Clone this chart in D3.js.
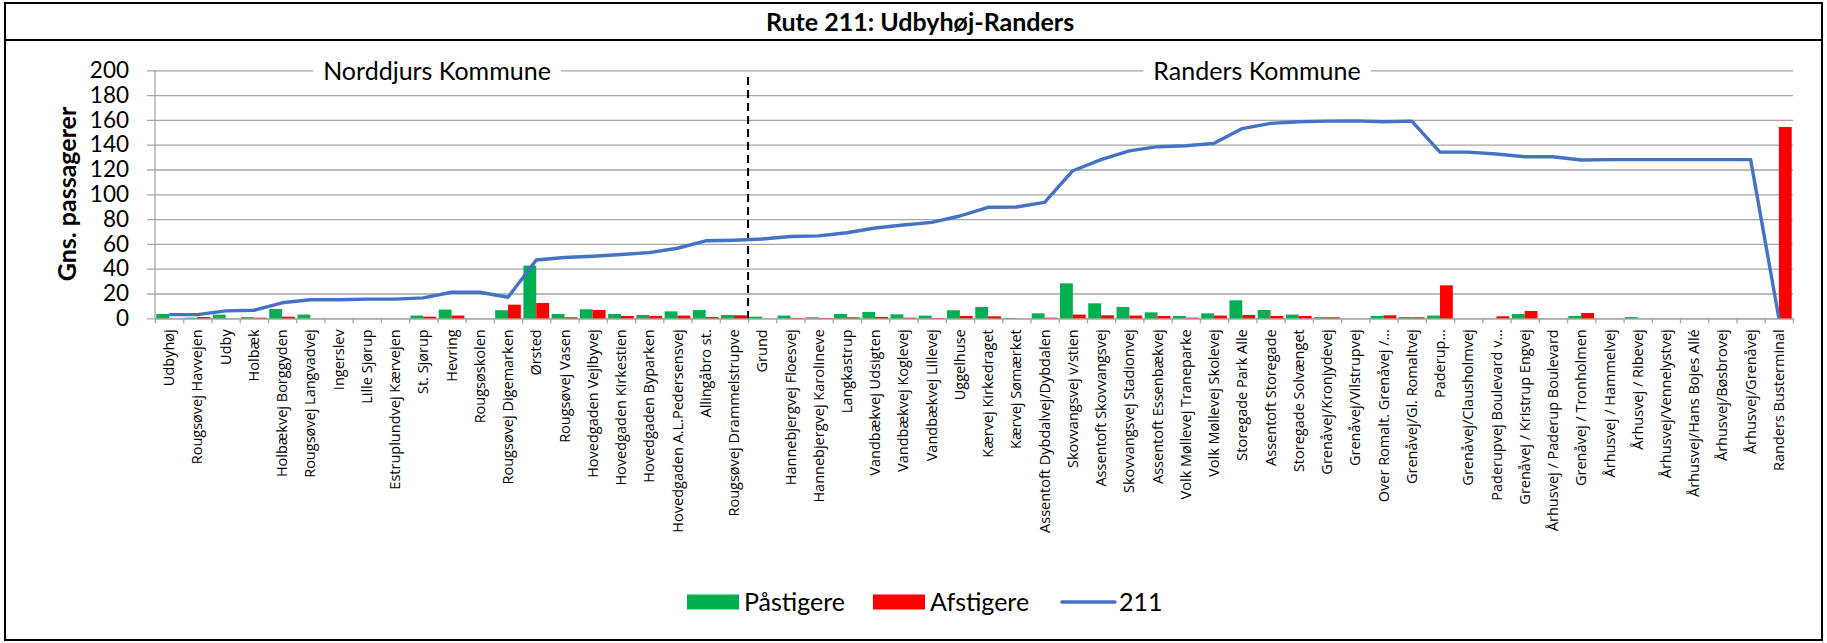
<!DOCTYPE html>
<html>
<head>
<meta charset="utf-8">
<script src="https://cdn.jsdelivr.net/npm/d3@7"></script>
<style>
  body { margin: 0; background: #fff; }
  svg { display: block; }
  .grid line { stroke: #a6a6a6; stroke-width: 1.3; }
  .grid text { font-family: Lato, sans-serif; font-size: 22.5px; fill: #000; }
  .xlab { font-family: "Open Sans", sans-serif; font-size: 14.5px; fill: #000; }
</style>
</head>
<body>
<div id="chart"></div>
<script>
// Data
const stops = [
  'Udbyhøj', 'Rougsøvej Havvejen', 'Udby', 'Holbæk', 'Holbækvej Borggyden',
  'Rougsøvej Langvadvej', 'Ingerslev', 'Lille Sjørup', 'Estruplundvej Kærvejen', 'St. Sjørup',
  'Hevring', 'Rougsøskolen', 'Rougsøvej Digemarken', 'Ørsted', 'Rougsøvej  Vasen',
  'Hovedgaden Vejlbyvej', 'Hovedgaden Kirkestien', 'Hovedgaden Byparken', 'Hovedgaden A.L.Pedersensvej', 'Allingåbro st.',
  'Rougsøvej Drammelstrupve', 'Grund', 'Hannebjergvej Floesvej', 'Hannebjergvej Karolineve', 'Langkastrup',
  'Vandbækvej Udsigten', 'Vandbækvej Koglevej', 'Vandbækvej Lillevej', 'Uggelhuse', 'Kærvej Kirkedraget',
  'Kærvej Sømærket', 'Assentoft Dybdalvej/Dybdalen', 'Skovvangsvej v/stien', 'Assentoft Skovvangsvej', 'Skovvangsvej Stadionvej',
  'Assentoft Essenbækvej', 'Volk Møllevej Traneparke', 'Volk Møllevej Skolevej', 'Storegade Park Alle', 'Assentoft Storegade',
  'Storegade Solvænget', 'Grenåvej/Kronjydevej', 'Grenåvej/Vilstrupvej', 'Over Romalt. Grenåvej /…', 'Grenåvej/Gl. Romaltvej',
  'Paderup…', 'Grenåvej/Clausholmvej', 'Paderupvej Boulevard v…', 'Grenåvej / Kristrup Engvej', 'Århusvej / Paderup Boulevard',
  'Grenåvej / Tronholmen', 'Århusvej / Hammelvej', 'Århusvej / Ribevej', 'Århusvej/Vennelystvej', 'Århusvej/Hans Bojes Allé',
  'Århusvej/Bøsbrovej', 'Århusvej/Grenåvej', 'Randers Busterminal'
];

const boarding = [
  3.5, 0.5, 3, 1, 7.5, 3, 0, 0, 0, 2.2,
  7, 0, 6.5, 42.5, 3.5, 7.3, 3.5, 2.7, 5.6, 6.7,
  2.7, 1.3, 2.2, 0.8, 3.5, 5.1, 3.2, 2.2, 6.5, 9.1,
  0.3, 4, 28.2, 12.1, 9.1, 4.8, 1.9, 4, 14.5, 6.7,
  3, 1, 0, 1.9, 1, 2.2, 0, 0, 3.5, 0,
  1.9, 0, 1, 0, 0, 0, 0, 0
];

const alighting = [
  0, 1, 0, 0.5, 1.3, 0, 0, 0, 0, 1.3,
  2.2, 0, 11, 12.4, 0.8, 6.7, 1.9, 1.9, 2.2, 1,
  2.4, 0, 0.3, 0.3, 0.8, 1.1, 0.5, 0.3, 1.9, 1.6,
  0, 0.5, 3, 2.4, 2.2, 1.9, 0.5, 2.2, 2.7, 1.9,
  1.9, 0.8, 0, 2.4, 0.8, 26.6, 0, 1.6, 5.9, 0,
  4.3, 0, 0, 0, 0, 0, 0, 154.3
];

const load = [
  3, 3, 6, 6.5, 12.5, 15, 15, 15.5, 15.5, 16.5,
  21, 21, 17, 47, 49, 50, 51.5, 53, 56.5, 62.5,
  63, 64, 66, 66.5, 69, 72.8, 75.2, 77.4, 82.5, 89.5,
  89.8, 93.5, 119, 128, 135, 138.4, 139.2, 141.1, 153, 157.2,
  158.5, 159, 159.2, 158.5, 159, 134, 134, 132.5, 130.3, 130.3,
  127.7, 128, 128, 128, 128, 128, 128, 0
];

const yTicks = [0, 20, 40, 60, 80, 100, 120, 140, 160, 180, 200];
const municipalities = [
  { name: 'Norddjurs Kommune', cx: 437 },
  { name: 'Randers Kommune', cx: 1257 }
];
const borderIndex = 21; // first stop in Randers Kommune

// Layout
const W = 1827, H = 643;
const plotLeft = 155, plotRight = 1793, plotTop = 70.3, plotBottom = 318.3;
const calibriLike = 'Lato, sans-serif';

const svg = d3.select('#chart').append('svg')
  .attr('width', W)
  .attr('height', H);

// Frame and title bar
svg.append('rect')
  .attr('x', 5).attr('y', 3).attr('width', 1817).attr('height', 637)
  .attr('fill', 'none').attr('stroke', '#000').attr('stroke-width', 2);
svg.append('line')
  .attr('x1', 5).attr('x2', 1822).attr('y1', 40).attr('y2', 40)
  .attr('stroke', '#000').attr('stroke-width', 2.2);
svg.append('text')
  .attr('x', 920).attr('y', 31)
  .attr('text-anchor', 'middle')
  .style('font-family', calibriLike)
  .style('font-weight', 'bold')
  .style('font-size', '25px')
  .text('Rute 211: Udbyhøj-Randers');

// Scales
const x = d3.scaleBand().domain(stops).range([plotLeft, plotRight]).padding(0);
const xi = d3.scaleLinear().domain([0, stops.length]).range([plotLeft, plotRight]);
const xSub = d3.scaleBand().domain(['on', 'off']).range([0, x.bandwidth()]).paddingOuter(0.1);
const y = d3.scaleLinear().domain([0, 200]).range([plotBottom, plotTop]);

// Gridlines + y tick labels
svg.append('g')
  .attr('class', 'grid')
  .attr('transform', `translate(${plotRight},0)`)
  .call(d3.axisLeft(y).tickValues(yTicks).tickSize(plotRight - 147).tickSizeOuter(0).tickPadding(18))
  .call(g => g.select('.domain').remove());

// Municipality labels sitting on the 200 gridline
const muni = svg.append('g');
municipalities.forEach(m => {
  const bg = muni.append('rect').attr('fill', '#fff');
  const t = muni.append('text')
    .attr('x', m.cx).attr('y', y(200) + 9.5)
    .attr('text-anchor', 'middle')
    .style('font-family', calibriLike)
    .style('font-size', '25px')
    .text(m.name);
  const bb = t.node().getBBox();
  bg.attr('x', bb.x - 10).attr('y', bb.y)
    .attr('width', bb.width + 20).attr('height', bb.height);
});

// y axis line
svg.append('line')
  .attr('x1', plotLeft).attr('x2', plotLeft)
  .attr('y1', y(0)).attr('y2', y(200))
  .attr('stroke', '#a6a6a6').attr('stroke-width', 1.3);

// x axis with ticks on category boundaries
svg.append('g')
  .attr('transform', `translate(0,${plotBottom})`)
  .call(d3.axisBottom(xi).tickValues(d3.range(stops.length + 1)).tickSize(5).tickSizeOuter(0).tickFormat(''))
  .call(g => g.selectAll('line, path').attr('stroke', '#a6a6a6').attr('stroke-width', 1.3));

// Bars
const groups = svg.append('g')
  .selectAll('g')
  .data(stops)
  .join('g')
  .attr('transform', d => `translate(${x(d)},0)`);

groups.append('rect')
  .attr('x', xSub('on'))
  .attr('width', xSub.bandwidth())
  .attr('y', (d, i) => y(boarding[i]))
  .attr('height', (d, i) => y(0) - y(boarding[i]))
  .attr('fill', '#00b050');

groups.append('rect')
  .attr('x', xSub('off'))
  .attr('width', xSub.bandwidth())
  .attr('y', (d, i) => y(alighting[i]))
  .attr('height', (d, i) => y(0) - y(alighting[i]))
  .attr('fill', '#ff0000');

// Municipality border
svg.append('line')
  .attr('x1', xi(borderIndex)).attr('x2', xi(borderIndex))
  .attr('y1', 77).attr('y2', plotBottom)
  .attr('stroke', '#000').attr('stroke-width', 2)
  .attr('stroke-dasharray', '8,5');

// Load line
const line = d3.line()
  .x((d, i) => x(stops[i]) + x.bandwidth() / 2)
  .y(d => y(d));

svg.append('path')
  .datum(load)
  .attr('fill', 'none')
  .attr('stroke', '#4472c4')
  .attr('stroke-width', 3.4)
  .attr('stroke-linejoin', 'round')
  .attr('d', line);

// x labels
svg.append('g')
  .selectAll('text')
  .data(stops)
  .join('text')
  .attr('class', 'xlab')
  .attr('transform', d => `translate(${x(d) + x.bandwidth() / 2},${plotBottom + 11}) rotate(-90)`)
  .attr('dy', '0.35em')
  .attr('text-anchor', 'end')
  .text(d => d);

// y axis title
svg.append('text')
  .attr('transform', `translate(76,194) rotate(-90)`)
  .attr('text-anchor', 'middle')
  .style('font-family', calibriLike)
  .style('font-weight', 'bold')
  .style('font-size', '25px')
  .text('Gns. passagerer');

// Legend
const legend = svg.append('g').style('font-family', calibriLike).style('font-size', '25px');
const lgY = 602;
legend.append('rect').attr('x', 687).attr('y', lgY - 7.5).attr('width', 52).attr('height', 15).attr('fill', '#00b050');
legend.append('text').attr('x', 744).attr('y', lgY + 9).text('Påstigere');
legend.append('rect').attr('x', 873).attr('y', lgY - 7.5).attr('width', 52).attr('height', 15).attr('fill', '#ff0000');
legend.append('text').attr('x', 930).attr('y', lgY + 9).text('Afstigere');
legend.append('line').attr('x1', 1062).attr('x2', 1115).attr('y1', lgY).attr('y2', lgY)
  .attr('stroke', '#4472c4').attr('stroke-width', 3.4).attr('stroke-linecap', 'round');
legend.append('text').attr('x', 1119).attr('y', lgY + 9).text('211');
</script>
</body>
</html>
